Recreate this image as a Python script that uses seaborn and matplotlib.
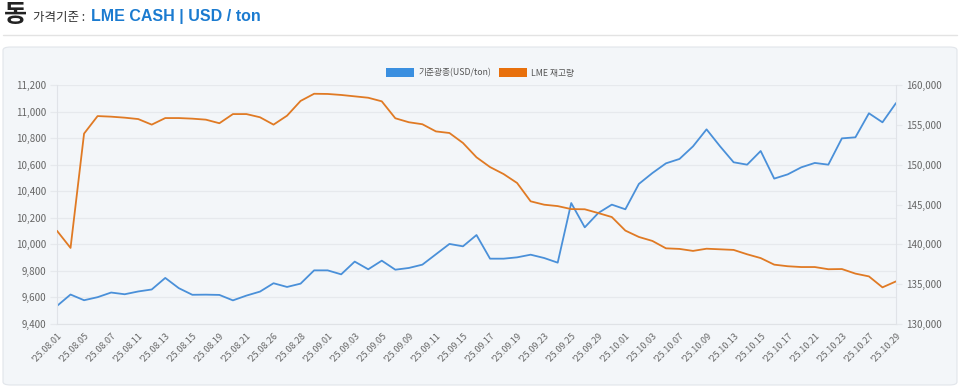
import numpy as np
import pandas as pd
import seaborn as sns
import matplotlib.pyplot as plt
from matplotlib.patches import Patch, FancyBboxPatch
from matplotlib.lines import Line2D
from matplotlib.ticker import FuncFormatter

# 거래일 (LME)
dates = ['25.08.01', '25.08.04', '25.08.05', '25.08.06', '25.08.07', '25.08.08', '25.08.11', '25.08.12',
         '25.08.13', '25.08.14', '25.08.15', '25.08.18', '25.08.19', '25.08.20', '25.08.21', '25.08.22',
         '25.08.26', '25.08.27', '25.08.28', '25.08.29', '25.09.01', '25.09.02', '25.09.03', '25.09.04',
         '25.09.05', '25.09.08', '25.09.09', '25.09.10', '25.09.11', '25.09.12', '25.09.15', '25.09.16',
         '25.09.17', '25.09.18', '25.09.19', '25.09.22', '25.09.23', '25.09.24', '25.09.25', '25.09.26',
         '25.09.29', '25.09.30', '25.10.01', '25.10.02', '25.10.03', '25.10.06', '25.10.07', '25.10.08',
         '25.10.09', '25.10.10', '25.10.13', '25.10.14', '25.10.15', '25.10.16', '25.10.17', '25.10.20',
         '25.10.21', '25.10.22', '25.10.23', '25.10.24', '25.10.27', '25.10.28', '25.10.29']

# 기준광종 가격 (USD/ton)
price = [9536, 9622, 9579, 9602, 9637, 9624, 9645, 9660, 9747, 9670,
         9620, 9621, 9619, 9578, 9614, 9644, 9707, 9679, 9704, 9804,
         9804, 9774, 9870, 9812, 9877, 9809, 9822, 9847, 9925, 10003,
         9985, 10070, 9892, 9892, 9902, 9922, 9897, 9862, 10311, 10128,
         10236, 10299, 10264, 10455, 10537, 10610, 10643, 10738, 10866, 10738,
         10618, 10600, 10703, 10495, 10527, 10580, 10613, 10600, 10798, 10806,
         10987, 10919, 11064]

# LME 재고량 (ton)
stock = [141700, 139550, 153900, 156100, 156025, 155900, 155725, 155025, 155850, 155850,
         155775, 155650, 155200, 156350, 156350, 155950, 155025, 156150, 158000, 158900,
         158875, 158750, 158575, 158400, 157950, 155825, 155325, 155075, 154175, 153975,
         152725, 150925, 149700, 148825, 147700, 145400, 144975, 144800, 144425, 144400,
         143925, 143425, 141725, 140925, 140425, 139500, 139425, 139175, 139450, 139375,
         139300, 138750, 138275, 137450, 137250, 137150, 137150, 136875, 136900, 136325,
         135975, 134600, 135350]

df = pd.DataFrame({'idx': np.arange(len(dates)), 'date': dates, 'price': price, 'stock': stock})

sns.set_style('white')
plt.rcParams['font.family'] = ['Noto Sans CJK KR', 'DejaVu Sans']

blue = '#4a90d9'
orange = '#e07a24'
grid_c = '#e6e9ed'
tick_c = '#666666'

fig = plt.figure(figsize=(9.6, 3.91), dpi=100)
fig.patch.set_facecolor('white')

# 배경 패널
panel = FancyBboxPatch((3 / 960, 1 - 385 / 391), 954 / 960, 338 / 391,
                       boxstyle='round,pad=0,rounding_size=0.008',
                       transform=fig.transFigure, facecolor='#f3f6f9', edgecolor='#e1e5ea',
                       linewidth=0.8, zorder=-5)
fig.patches.append(panel)

# 제목 영역
fig.text(4 / 960, 1 - 15 / 391, '동', fontsize=18, fontweight='bold', color='#222222', va='center')
fig.text(33 / 960, 1 - 17 / 391, '가격기준 :', fontsize=9, color='#333333', va='center')
fig.text(91 / 960, 1 - 17 / 391, 'LME CASH | USD / ton', fontsize=11.5, fontweight='bold',
         color='#1b7bd0', va='center', family=['Liberation Sans', 'DejaVu Sans'])
fig.add_artist(Line2D([3 / 960, 957 / 960], [1 - 35 / 391, 1 - 35 / 391], transform=fig.transFigure,
                      color='#e3e3e3', linewidth=1))

ax = fig.add_axes([57 / 960, 1 - 324 / 391, 839 / 960, 239 / 391])
ax.set_facecolor('none')
ax2 = ax.twinx()

sns.lineplot(data=df, x='idx', y='price', ax=ax, color=blue, linewidth=1.3)
sns.lineplot(data=df, x='idx', y='stock', ax=ax2, color=orange, linewidth=1.3)

ax.set_xlim(0, len(dates) - 1)
ax.set_ylim(9400, 11200)
ax.set_yticks(np.arange(9400, 11201, 200))
ax2.set_ylim(130000, 160000)
ax2.set_yticks(np.arange(130000, 160001, 5000))

fmt = FuncFormatter(lambda v, p: f'{int(v):,}')
ax.yaxis.set_major_formatter(fmt)
ax2.yaxis.set_major_formatter(fmt)

ax.set_xticks(df['idx'][::2])
ax.set_xticklabels(["'" + d for d in df['date'][::2]], rotation=45, ha='right',
                   rotation_mode='anchor')

ax.grid(axis='y', color=grid_c, linewidth=0.9)
ax.set_axisbelow(True)
for a in (ax, ax2):
    a.set_xlabel('')
    a.set_ylabel('')
    for s in a.spines.values():
        s.set_visible(False)
ax.spines['left'].set_visible(True)
ax.spines['left'].set_color('#e0e3e8')
ax.spines['bottom'].set_visible(True)
ax.spines['bottom'].set_color('#dfe2e6')
ax2.spines['right'].set_visible(True)
ax2.spines['right'].set_color('#e0e3e8')

ax.tick_params(axis='y', labelsize=7, colors=tick_c, length=5, width=0.9, color=grid_c, pad=3)
ax.tick_params(axis='x', labelsize=6.5, colors=tick_c, length=0, pad=5)
ax2.tick_params(axis='y', labelsize=7, colors=tick_c, length=4, width=0.9, color=grid_c, pad=3)

handles = [Patch(facecolor='#3a8fe0', edgecolor='none', label='기준광종(USD/ton)'),
           Patch(facecolor='#e8700c', edgecolor='none', label='LME 재고량')]
fig.legend(handles=handles, loc='center', bbox_to_anchor=(0.5, 1 - 73 / 391), ncol=2,
           frameon=False, fontsize=6.3, handlelength=3.2, handleheight=1.1,
           handletextpad=0.5, columnspacing=0.9, labelcolor='#555555')

plt.savefig('out.png', dpi=100, facecolor=fig.get_facecolor())
